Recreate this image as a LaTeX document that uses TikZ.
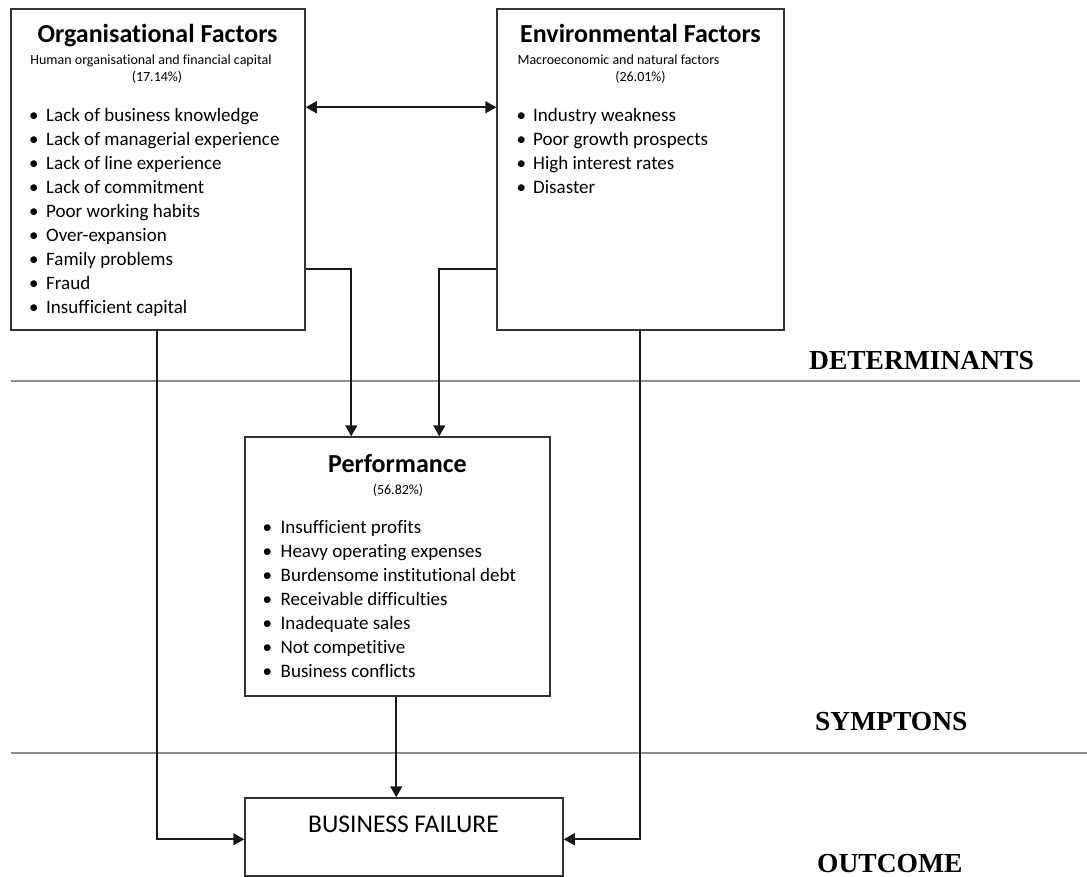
\documentclass[tikz,border=0pt]{standalone}
\usepackage{fontspec}
\setmainfont{Carlito}[Ligatures=NoCommon]
\newfontfamily\levelfont{Liberation Serif}
\usetikzlibrary{arrows.meta,calc}

% bullet column of fixed width followed by the item text
\newcommand{\bl}[1]{\makebox[#1][l]{\textbullet}}

\begin{document}
\begin{tikzpicture}[x=1pt,y=-1pt,
  box/.style={draw=black!80, line width=1.5pt, rectangle, inner sep=0pt},
  arr/.style={draw=black!90, line width=1.7pt, -{Triangle[length=11pt,width=12pt]}},
  dblarr/.style={draw=black!90, line width=1.7pt, {Triangle[length=11pt,width=12pt]}-{Triangle[length=11pt,width=12pt]}},
  divider/.style={draw=black!45, line width=1.6pt},
  title/.style={anchor=base, inner sep=0pt, font=\fontsize{26}{30}\selectfont\bfseries},
  sub/.style={anchor=base, inner sep=0pt, font=\fontsize{14}{17}\selectfont},
  list/.style={anchor=base west, inner sep=0pt, font=\fontsize{19}{24}\selectfont},
  level/.style={anchor=base west, inner sep=0pt, font=\fontsize{27.5}{32}\levelfont\bfseries},
]
\useasboundingbox (0,0) rectangle (1087,877);

% level dividers
\draw[divider] (11,381) -- (1080,381);
\draw[divider] (11,753) -- (1087,753);

% level labels
\node[level] (lvdet) at (809,369) {DETERMINANTS};
\node[level] (lvsym) at (815,730) {SYMPTONS};
\node[level] (lvout) at (817,872) {OUTCOME};

% boxes
\node[box, minimum width=294pt, minimum height=321pt] (org) at (158,169.5) {};
\node[box, minimum width=287pt, minimum height=321pt] (env) at (640.5,169.5) {};
\node[box, minimum width=305pt, minimum height=259pt] (perf) at (397.5,566.5) {};
\node[box, fill=white, minimum width=318pt, minimum height=78pt] (bf) at (404,837) {};

% organisational factors
\node[title] (orgt) at (157.5,43) {Organisational Factors};
\node[sub] (orgs) at (151,65) {Human organisational and financial capital};
\node[sub] (orgp) at (157,82) {(17.14\%)};
\node[list] (orgl) at (29,122) {\begin{tabular}[t]{@{}l@{}}
\bl{17pt}Lack of business knowledge\\
\bl{17pt}Lack of managerial experience\\
\bl{17pt}Lack of line experience\\
\bl{17pt}Lack of commitment\\
\bl{17pt}Poor working habits\\
\bl{17pt}Over-expansion\\
\bl{17pt}Family problems\\
\bl{17pt}Fraud\\
\bl{17pt}Insufficient capital
\end{tabular}};

% environmental factors
\node[title] (envt) at (640.5,43) {Environmental Factors};
\node[sub] (envs) at (618.5,65) {Macroeconomic and natural factors};
\node[sub] (envp) at (640.5,82) {(26.01\%)};
\node[list] (envl) at (516.5,122) {\begin{tabular}[t]{@{}l@{}}
\bl{16.5pt}Industry weakness\\
\bl{16.5pt}Poor growth prospects\\
\bl{16.5pt}High interest rates\\
\bl{16.5pt}Disaster
\end{tabular}};

% performance
\node[title] (perft) at (397.5,472) {Performance};
\node[sub] (perfp) at (398,494) {(56.82\%)};
\node[list] (perfl) at (262.5,533.5) {\begin{tabular}[t]{@{}l@{}}
\bl{18pt}Insufficient profits\\
\bl{18pt}Heavy operating expenses\\
\bl{18pt}Burdensome institutional debt\\
\bl{18pt}Receivable difficulties\\
\bl{18pt}Inadequate sales\\
\bl{18pt}Not competitive\\
\bl{18pt}Business conflicts
\end{tabular}};

% outcome
\node[anchor=base, inner sep=0pt, font=\fontsize{25.5}{30}\selectfont] (bft) at (403.5,832) {BUSINESS FAILURE};

% connectors
\draw[dblarr] ($(org.north east)+(0,99)$) -- ($(env.north west)+(0,99)$);
\draw[arr] ($(org.north east)+(0,261)$) -| ($(perf.north west)+(107,0)$);
\draw[arr] ($(env.north west)+(0,261)$) -| ($(perf.north west)+(195,0)$);
\draw[arr] ($(perf.south west)+(152,0)$) -- ($(bf.north west)+(152,0)$);
\draw[arr] ($(org.south west)+(147,0)$) |- ($(bf.north west)+(0,42)$);
\draw[arr] ($(env.south west)+(143.5,0)$) |- ($(bf.north east)+(0,42)$);
\end{tikzpicture}
\end{document}
